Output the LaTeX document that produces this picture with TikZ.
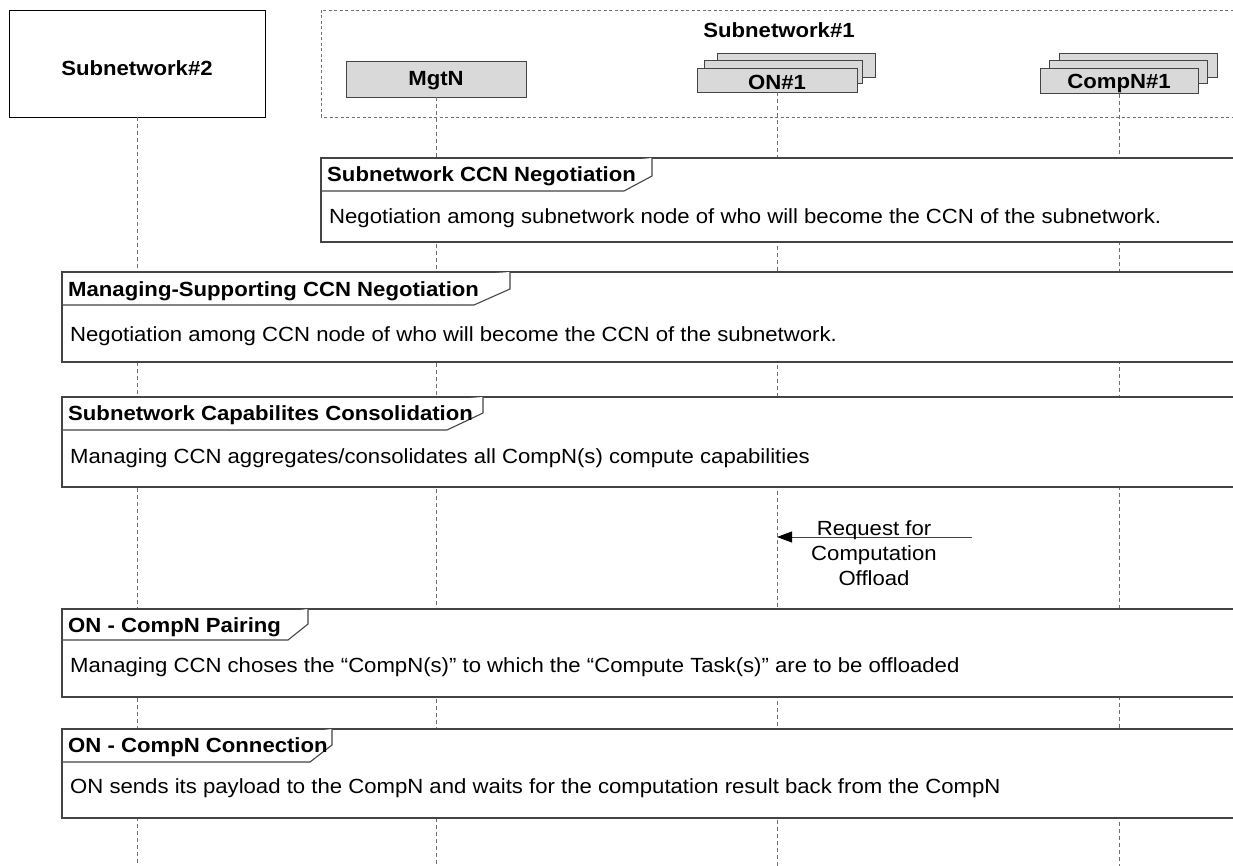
\documentclass[tikz,border=0pt]{standalone}
\usepackage{fontspec}
\setmainfont{Liberation Sans}[FakeStretch=1.08]
\usetikzlibrary{arrows.meta}
\definecolor{boxgray}{HTML}{D9D9D9}
\definecolor{linegray}{HTML}{444444}
\definecolor{lifegray}{HTML}{707070}
\begin{document}
\begin{tikzpicture}[x=1pt,y=-1pt,
  font=\fontsize{20.5}{25}\selectfont,
  hdrbox/.style={draw=black, line width=0.8pt, fill=white, inner sep=0pt, font=\fontsize{20.5}{25}\selectfont\bfseries},
  part/.style={draw=linegray, fill=boxgray, line width=0.8pt, inner sep=0pt, font=\fontsize{20.5}{25}\selectfont\bfseries},
  lifeline/.style={draw=lifegray, line width=0.7pt, dash pattern=on 4pt off 3pt},
  grpbox/.style={draw=lifegray, line width=0.7pt, dash pattern=on 3pt off 2.5pt},
  umlframe/.style={draw=linegray, line width=1.1pt, fill=white},
  ftitle/.style={anchor=west, inner sep=0pt, font=\fontsize{20.5}{25}\selectfont\bfseries},
  ftext/.style={anchor=west, inner sep=0pt},
  lbl/.style={inner sep=0pt, font=\fontsize{20.5}{25}\selectfont\bfseries},
  msg/.style={draw=linegray, line width=0.8pt, -{Triangle[length=15pt,width=11pt,color=black]}},
]
\clip (0,0) rectangle (1233,866);
\fill[white] (0,0) rectangle (1233,866);

% participants
\node[hdrbox, minimum width=256pt, minimum height=107pt] (sn2) at (137,63.5) {};
\node[lbl] (sn2t) at (137,68) {Subnetwork\#2};
\draw[grpbox] (321,10) rectangle (1300,117);
\node[lbl] (sn1) at (779,30) {Subnetwork\#1};
\node[part, minimum width=180pt, minimum height=36pt] (mgtn) at (436,79) {};
\node[lbl] (mgtnt) at (436,81) {MgtN};

\node[part, minimum width=158pt, minimum height=24pt] (onc) at (796,65) {};
\node[part, minimum width=158pt, minimum height=23pt] (onb) at (783,72) {};
\node[part, minimum width=160pt, minimum height=24pt] (ona) at (777,80) {};
\node[lbl] (onat) at (777,82) {ON\#1};

\node[part, minimum width=158pt, minimum height=24pt] (cpc) at (1138,65) {};
\node[part, minimum width=158pt, minimum height=23pt] (cpb) at (1128,72) {};
\node[part, minimum width=158pt, minimum height=25pt] (cpa) at (1119,81) {};
\node[lbl] (cpat) at (1119,83) {CompN\#1};

% lifelines
\coordinate (sn2end) at (137,866);
\coordinate (mgtnend) at (436,866);
\coordinate (onend) at (777,866);
\coordinate (cpend) at (1119,866);
\draw[lifeline] (sn2.south) -- (sn2end);
\draw[lifeline] (mgtn.south) -- (mgtnend);
\draw[lifeline] (ona.south) -- (onend);
\draw[lifeline] (cpa.south) -- (cpend);

% frame 1
\draw[umlframe] (321,158) rectangle (1300,242);
\draw[umlframe] (321,191) -- (624,191) -- (652,176) -- (652,158);
\node[ftitle] (f1t) at (327,176) {Subnetwork CCN Negotiation};
\node[ftext] (f1b) at (329,218) {Negotiation among subnetwork node of who will become the CCN of the subnetwork.};

% frame 2
\draw[umlframe] (62,272) rectangle (1300,362);
\draw[umlframe] (62,305) -- (474,305) -- (510,289) -- (510,272);
\node[ftitle] (f2t) at (68,291) {Managing-Supporting CCN Negotiation};
\node[ftext] (f2b) at (70,336) {Negotiation among CCN node of who will become the CCN of the subnetwork.};

% frame 3
\draw[umlframe] (62,397) rectangle (1300,487);
\draw[umlframe] (62,430) -- (447,430) -- (483,413) -- (483,397);
\node[ftitle] (f3t) at (68,415) {Subnetwork Capabilites Consolidation};
\node[ftext] (f3b) at (70,458) {Managing CCN aggregates/consolidates all CompN(s) compute capabilities};

% message
\coordinate (reqstart) at (972,537);
\draw[msg] (reqstart) -- (reqstart -| ona);
\node[align=center, inner sep=0pt] (reqlbl) at (874,553) {Request for\\Computation\\Offload};

% frame 4
\draw[umlframe] (62,609) rectangle (1300,697);
\draw[umlframe] (62,640) -- (288,640) -- (308,624) -- (308,609);
\node[ftitle] (f4t) at (68,627) {ON - CompN Pairing};
\node[ftext] (f4b) at (70,667) {Managing CCN choses the “CompN(s)” to which the “Compute Task(s)” are to be offloaded};

% frame 5
\draw[umlframe] (62,729) rectangle (1300,818);
\draw[umlframe] (62,762) -- (310,762) -- (332,745) -- (332,729);
\node[ftitle] (f5t) at (68,747) {ON - CompN Connection};
\node[ftext] (f5b) at (70,788) {ON sends its payload to the CompN and waits for the computation result back from the CompN};
\end{tikzpicture}
\end{document}
